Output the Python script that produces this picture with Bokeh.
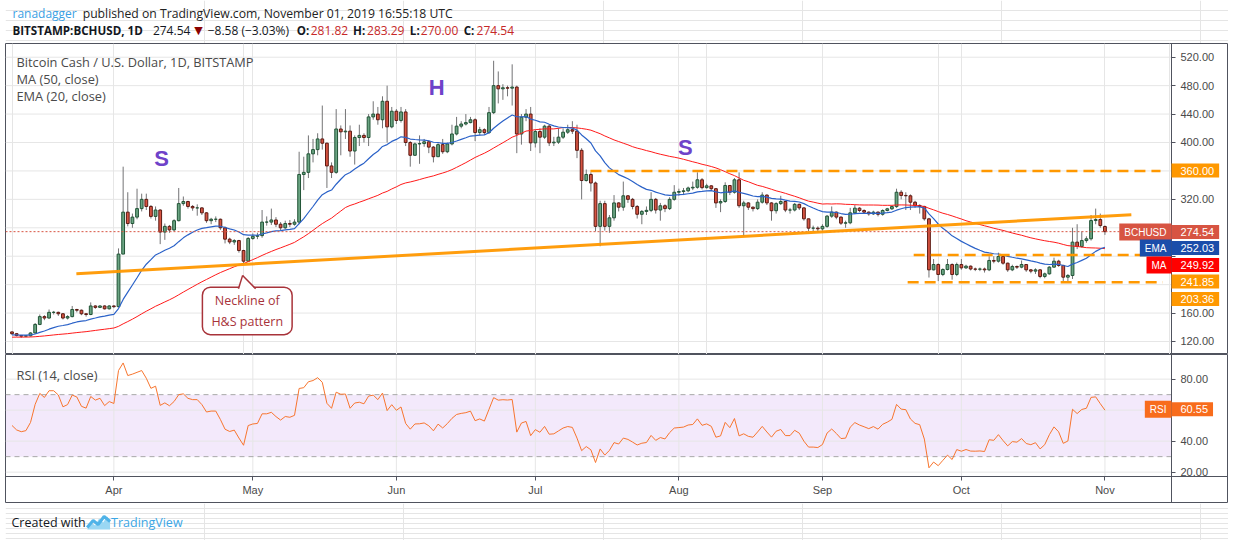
import numpy as np
import pandas as pd
from bokeh.plotting import figure
from bokeh.models import (Range1d, FixedTicker, Grid, Label, BoxAnnotation,
                          ColumnDataSource, PrintfTickFormatter, PolyAnnotation, Arrow)
from bokeh.layouts import column
from bokeh.embed import file_html
from bokeh.resources import INLINE
from bokeh.core.properties import value

# ---------------- data ----------------
start_date = "2019-03-10"
closes = [
    131, 128.5, 127.5, 128, 132, 144, 155, 153, 161, 161,
    159, 153, 155, 165, 164, 159, 158, 170, 168, 170,
    166, 170, 169, 243, 302, 286, 295, 307, 320, 310,
    296, 305, 274, 282, 277, 290, 314, 317, 310, 308,
    308, 301, 290, 292, 292, 280, 264, 260, 262, 248,
    233, 265, 268, 269, 288, 288, 291, 285, 280, 286,
    285, 288, 355, 358, 384, 390, 405, 399, 367, 358,
    419, 415, 416, 388, 407, 410, 407, 436, 440, 432,
    458, 422, 444, 431, 443, 400, 382, 398, 398.5, 401,
    393.5, 380, 397, 387, 398, 412, 423, 426, 428, 432,
    414, 418, 414, 442, 480, 475.5, 477, 476.5, 478, 412,
    435.6, 440, 399.5, 415.5, 407.5, 423, 399.5, 400.5, 407.5, 414.5,
    418, 416, 389, 346.5, 355, 343, 282, 314, 282, 294,
    315, 309, 325, 320, 310, 299, 303, 304.5, 320, 305,
    311, 307, 320, 330, 331, 332, 336, 337, 347.5, 336.5,
    339, 335, 315, 317, 339.5, 330, 347.5, 311, 315, 309,
    307, 316, 326, 315, 304, 314, 317, 305, 305, 313,
    308, 292.6, 279.5, 279.5, 278.5, 282, 296.4, 302, 295, 286.5,
    287, 301, 307.6, 304.3, 302, 299.6, 302, 299, 304.3, 306.7,
    309.8, 330, 325.5, 325, 316, 311.4, 310, 292.6, 220.8, 228.3,
    214.3, 221.3, 228.3, 214.3, 228.3, 223.6, 226, 222, 221.7, 222,
    220.8, 234, 233, 239.6, 230.2, 220.8, 225.5, 224.6, 228.3, 220.8,
    219, 220.8, 211.5, 215.2, 224.6, 233, 227, 210.5, 212.9, 259.8,
    253.7, 262, 264.5, 290.2, 291.6, 283.12, 274.54,
]
highs = [
    134, 132, 129, 129, 133, 146, 158, 157, 165, 163,
    162, 160, 157, 170, 166, 165, 160, 175, 171, 171,
    171, 171, 171, 251, 366, 330, 300, 335, 328, 328,
    312, 310, 306, 286, 284, 292, 336, 324, 318, 312,
    313, 309, 302, 294, 296, 293, 282, 266, 264, 263,
    249, 267, 272, 273, 305, 296, 307, 295, 288, 290,
    291, 292, 387, 380, 410, 405, 413, 452, 400, 372,
    447, 424, 447, 424, 410, 425, 413, 440, 458, 450,
    465, 480, 450, 447, 450, 447, 402, 400, 410, 405,
    403, 395, 399, 405, 400, 425, 436, 430, 440, 436,
    434, 422, 420, 450, 515, 500, 482, 480, 510, 480,
    440, 447, 450, 418, 420, 425, 425, 408, 420, 420,
    425, 430, 425, 392, 362, 358, 345, 318, 318, 298,
    326, 316, 345, 326, 322, 312, 305, 310, 330, 322,
    315, 313, 323, 340, 335, 336, 338, 345, 358, 350,
    342, 340, 336, 320, 344, 340, 350, 358, 318, 316,
    310, 320, 330, 327, 316, 316, 325, 318, 308, 315,
    314, 309, 293, 283, 282, 285, 298, 310, 303, 296,
    290, 308, 312, 309, 306, 303, 304, 303, 306, 308,
    311, 335, 333, 330, 327, 318, 313, 311, 294, 236,
    230, 223, 236, 230, 231, 236, 228, 227, 224, 224,
    224, 240, 240, 245, 241, 231, 228, 227, 234, 229,
    222, 223, 222, 217, 226, 238, 235, 228, 215, 280,
    285, 275, 268, 298, 307, 300, 283.29,
]
lows = [
    129, 127, 125, 126, 127, 131, 143, 150, 152, 158,
    156, 151, 151, 154, 161, 157, 155, 157, 166, 167,
    165, 165, 167, 168, 243, 282, 280, 292, 303, 305,
    293, 290, 257, 263, 273, 275, 289, 311, 307, 304,
    297, 298, 287, 285, 288, 277, 258, 257, 256, 245,
    230, 233, 263, 264, 266, 283, 284, 281, 276, 278,
    281, 283, 285, 333, 350, 372, 382, 390, 336, 350,
    356, 382, 405, 380, 369, 395, 400, 395, 432, 425,
    420, 400, 420, 426, 428, 395, 366, 381, 370, 394,
    385, 372, 380, 384, 385, 396, 410, 420, 424, 427,
    402, 410, 411, 412, 440, 455, 460, 465, 452, 385,
    397, 430, 388, 393, 385, 405, 395, 395, 398, 405,
    412, 412, 378, 320, 345, 331, 275, 254, 276, 273,
    290, 303, 304, 315, 306, 293, 285, 298, 302, 300,
    290, 302, 305, 318, 325, 326, 330, 333, 335, 334,
    335, 332, 308, 302, 315, 326, 328, 308, 268, 305,
    303, 305, 314, 312, 290, 300, 312, 302, 300, 303,
    305, 290, 275, 274, 274, 276, 280, 294, 292, 284,
    280, 285, 299, 302, 300, 297, 298, 296, 297, 303,
    305, 308, 320, 305, 305, 308, 300, 290, 210, 220,
    205, 212, 220, 207, 212, 221, 222, 220, 219, 219,
    217, 219, 230, 231, 228, 218, 219, 222, 223, 218,
    216, 215, 209, 209, 214, 224, 225, 203, 205, 208,
    250, 252, 259, 262, 285, 280, 270.00,
]
first_open = 133.5
last_open = 281.82

# indicator seeds (state before the visible window)
ma50_seed = 126.0
ema20_seed = 129.0
rsi_seed_gain = 1.7
rsi_seed_loss = 1.5

# values printed on the chart's scale badges
ema_shown = 252.03
ma_shown = 249.92
rsi_shown = 60.55

price_ticks = [120, 160, 200, 240, 280, 320, 360, 400, 440, 480, 520]
rsi_ticks = [20, 40, 60, 80]
rsi_band = [30, 70]

# drawings of the author
neckline_idx = [13.9, 241.7]
neckline_price = [215.3, 298.5]
level_prices = [360.0, 241.85, 203.36]
level_start_idx = [124.9, 194.7, 193.4]
level_end_idx = [248.0, 248.5, 248.5]
pattern_letters = ["S", "H", "S"]
pattern_idx = [32.3, 91.7, 145.4]
pattern_price = [377.5, 477.3, 393.0]
note_text = "Neckline of\nH&S pattern"
note_idx, note_price = 50.8, 163.0
note_tip = (49.8, 213.0)
note_base = (48.9, 52.6, 193.0)

# ---------------- derived ----------------
n = len(closes)
dates = pd.date_range(start_date, periods=n, freq="D")
idx = np.arange(n)
c = np.array(closes, float)
opens = np.array([first_open] + closes[:-1], float)
opens[-1] = last_open
h = np.array(highs, float)
l = np.array(lows, float)

padded = np.concatenate([np.full(49, ma50_seed), c])
ma50 = pd.Series(padded).rolling(50).mean().to_numpy()[49:]
ema20 = []
e = ema20_seed
k = 2 / 21
for v in c:
    e = v * k + e * (1 - k)
    ema20.append(e)
rsi = []
ag, al = rsi_seed_gain, rsi_seed_loss
prev = first_open
for v in c:
    ch = v - prev
    ag = (ag * 13 + max(ch, 0)) / 14
    al = (al * 13 + max(-ch, 0)) / 14
    rsi.append(100 - 100 / (1 + ag / al))
    prev = v

month_idx = [int(i) for i in idx[dates.day == 1]]
month_lbl = {i: dates[i].strftime("%b") for i in month_idx}

# ---------------- style / geometry ----------------
BORDER = "#50535E"
GRID = "#E6E6E6"
UP_FILL, DOWN_FILL = "#6BA583", "#D75442"
UP_LINE, DOWN_LINE = "#225437", "#5B1A13"
WICK = "#737375"
MA_C = "#FF1A1A"
EMA_C = "#2B62C8"
EMA_BADGE = "#1B4DAA"
ORANGE = "#FF9800"
RSI_C = "#F7752E"
RSI_BADGE = "#F86C1C"
PURPLE = "#6F42C9"
NOTE_C = "#A8333A"
TXT = "#4A4A4A"

W = 1228
LEFT = 5                      # frame starts 5px from the page edge
AXIS_PX = 1171 - LEFT         # price scale line, in px from the frame's left edge
HEADER_H, PRICE_H, RSI_H, FOOT_H = 43, 311, 149, 37
PRICE_TOP = HEADER_H
PRICE_BOTTOM = HEADER_H + PRICE_H
RSI_BOTTOM = PRICE_BOTTOM + RSI_H
X0, X1 = -1.404, 262.68       # visible bar range (frame is 1223px wide)
AXIS_X = 250.37               # bar position of the price scale line
PRICE_LO, PRICE_HI = 101.7, 539.3
RSI_LO, RSI_HI = -0.22, 95.9
RSI_AXIS_Y = 17.2             # RSI value at the time axis line

# where the chart stacks its price badges (page y of each badge centre)
badge_y = {"360": 170, "last": 231.5, "ema": 247.5, "ma": 264.5, "lvl1": 281, "lvl2": 298.5}

xr = Range1d(X0, X1)


def price_page_y(v):
    return PRICE_TOP + (PRICE_HI - v) / (PRICE_HI - PRICE_LO) * PRICE_H


def rsi_page_y(v):
    return PRICE_BOTTOM + (RSI_HI - v) / (RSI_HI - RSI_LO) * RSI_H


def style_axis(ax, size="11px"):
    ax.major_tick_out = 4
    ax.major_tick_in = 0
    ax.minor_tick_out = 0
    ax.minor_tick_in = 0
    ax.axis_line_color = BORDER
    ax.major_tick_line_color = BORDER
    ax.major_label_text_font = "Liberation Sans"
    ax.major_label_text_font_size = size
    ax.major_label_text_color = TXT
    ax.major_label_standoff = 5


def badge(fig, text, x, y, fill, align, y_units="screen", pad=(9, 5, 3, 3), size="11px"):
    fig.add_layout(Label(x=x, y=y, x_units="screen", y_units=y_units, text=text,
                         text_align=align, text_baseline="middle", text_color="white",
                         text_font="Liberation Sans", text_font_size=size,
                         background_fill_color=fill, padding=pad))


def caption(fig, text, x, y, size="12.8px", color=TXT):
    fig.add_layout(Label(x=x, y=y, x_units="screen", y_units="screen", text=text,
                         text_align="left", text_baseline="middle", text_color=color,
                         text_font="Open Sans", text_font_size=size))


def plain(height):
    f = figure(width=W, height=height, x_range=Range1d(0, W), y_range=Range1d(height, 0),
               toolbar_location=None, output_backend="svg", title=None,
               x_axis_location=None, y_axis_location=None, min_border=0)
    f.outline_line_color = None
    f.background_fill_color = "white"
    f.border_fill_color = "white"
    return f


F = value("Open Sans")

# ---------------- header ----------------
hf = plain(HEADER_H)
chg = c[-1] - c[-2]
pct = chg / c[-2] * 100
sign = "−" if chg < 0 else "+"
hf.text(x=[7], y=[13], text=["ranadagger"], text_font=F, text_font_size="12px",
        text_baseline="middle", text_color="#3AA0E3")
hf.text(x=[77.5], y=[13], text=["published on TradingView.com, November 01, 2019 16:55:18 UTC"],
        text_font=F, text_font_size="12.2px", text_baseline="middle", text_color="#222222")
hf.text(x=[7, 292.5, 349, 406, 460], y=[30] * 5,
        text=["BITSTAMP:BCHUSD, 1D", "O:", "H:", "L:", "C:"], text_font=F,
        text_font_size="11.6px", text_font_style="bold", text_baseline="middle",
        text_color="#131722")
hf.text(x=[148, 203], y=[30, 30],
        text=[f"{c[-1]:.2f}", f"{sign}{abs(chg):.2f} ({sign}{abs(pct):.2f}%)"],
        text_font=F, text_font_size="12px", text_baseline="middle", text_color="#131722")
hf.text(x=[189.5], y=[30], text=["▼"], text_font=value("DejaVu Sans"), text_font_size="11px",
        text_baseline="middle", text_color="#8B0000")
hf.text(x=[306.5, 363, 417, 473], y=[30] * 4,
        text=[f"{opens[-1]:.2f}", f"{h[-1]:.2f}", f"{l[-1]:.2f}", f"{c[-1]:.2f}"],
        text_font=F, text_font_size="12px", text_baseline="middle", text_color="#C62828")

# ---------------- price pane ----------------
pf = figure(width=W, height=PRICE_H, x_range=xr, y_range=Range1d(PRICE_LO, PRICE_HI),
            x_axis_location=None, y_axis_location="right", toolbar_location=None,
            output_backend="svg", title=None, min_border_left=LEFT, min_border_right=0,
            min_border_top=0, min_border_bottom=0)
pf.outline_line_color = BORDER
pf.background_fill_color = "white"
pf.border_fill_color = "white"
pf.ygrid.grid_line_color = None
pf.add_layout(Grid(dimension=0, ticker=FixedTicker(ticks=month_idx), grid_line_color=GRID))
pf.segment(x0=[X0] * len(price_ticks), y0=price_ticks, x1=[AXIS_X] * len(price_ticks),
           y1=price_ticks, line_color=GRID, line_width=1)
ya = pf.yaxis[0]
ya.fixed_location = AXIS_X
ya.ticker = FixedTicker(ticks=price_ticks)
ya.formatter = PrintfTickFormatter(format="%.2f")
# tick labels that sit under a badge are hidden, as on the chart
ya.major_label_overrides = {t: "" for t in price_ticks
                            if any(abs(price_page_y(t) - b) < 12 for b in badge_y.values())}
style_axis(ya)

up = c >= opens
top = np.maximum(opens, c)
bot = np.minimum(opens, c)
src = ColumnDataSource(dict(
    x=idx, top=top, bottom=bot, hi=np.maximum(h, top), lo=np.minimum(l, bot),
    fill=np.where(up, UP_FILL, DOWN_FILL), line=np.where(up, UP_LINE, DOWN_LINE)))
pf.segment(x0="x", y0="lo", x1="x", y1="hi", source=src, line_color=WICK, line_width=1)
pf.vbar(x="x", width=0.6, top="top", bottom="bottom", source=src,
        fill_color="fill", line_color="line", line_width=1)
pf.line(idx, ma50, line_color=MA_C, line_width=1)
pf.line(idx, ema20, line_color=EMA_C, line_width=1.2)
pf.segment(x0=[X0], y0=[c[-1]], x1=[AXIS_X], y1=[c[-1]], line_color=DOWN_FILL,
           line_dash="2 2", line_width=1)
pf.line(neckline_idx, neckline_price, line_color=ORANGE, line_width=3, line_alpha=0.95)
pf.segment(x0=level_start_idx, y0=level_prices, x1=level_end_idx, y1=level_prices,
           line_color=ORANGE, line_width=2.5, line_dash="11 6")

for t, xi, yi in zip(pattern_letters, pattern_idx, pattern_price):
    pf.add_layout(Label(x=xi, y=yi, text=t, text_align="center", text_baseline="middle",
                        text_color=PURPLE, text_font="Liberation Sans",
                        text_font_style="bold", text_font_size="22px"))

pf.add_layout(Label(x=note_idx, y=note_price, text=note_text, text_align="center",
                    text_baseline="middle", text_color=NOTE_C, text_font="Open Sans",
                    text_font_size="12.5px", background_fill_color="white",
                    border_line_color=NOTE_C, border_line_width=1.5, padding=(9, 9, 5, 5),
                    border_radius=8))
pf.add_layout(PolyAnnotation(xs=[note_base[0], note_tip[0], note_base[1]],
                             ys=[note_base[2], note_tip[1], note_base[2]],
                             fill_color="white", fill_alpha=1, line_color=None))
for bx in note_base[:2]:
    pf.add_layout(Arrow(end=None, x_start=bx, y_start=note_base[2] + 1.2, x_end=note_tip[0],
                        y_end=note_tip[1], line_color=NOTE_C, line_width=1.5))

# captions: page y -> px above the pane bottom
caption(pf, "Bitcoin Cash / U.S. Dollar, 1D, BITSTAMP", 11, PRICE_BOTTOM - 61)
caption(pf, "MA (50, close)", 11, PRICE_BOTTOM - 78)
caption(pf, "EMA (20, close)", 11, PRICE_BOTTOM - 95)

# scale badges (stacked the way the chart stacks them)
def sy(key):
    return PRICE_BOTTOM - badge_y[key]


badge(pf, f"{level_prices[0]:.2f}", AXIS_PX, sy("360"), ORANGE, "left")
badge(pf, f"{c[-1]:.2f}", AXIS_PX, sy("last"), DOWN_FILL, "left")
badge(pf, f"{ema_shown:.2f}", AXIS_PX, sy("ema"), EMA_BADGE, "left")
badge(pf, f"{ma_shown:.2f}", AXIS_PX, sy("ma"), "#FF0000", "left")
badge(pf, f"{level_prices[1]:.2f}", AXIS_PX, sy("lvl1"), ORANGE, "left")
badge(pf, f"{level_prices[2]:.2f}", AXIS_PX, sy("lvl2"), ORANGE, "left")
badge(pf, "BCHUSD", AXIS_PX, sy("last"), DOWN_FILL, "right", pad=(5, 5, 3, 3), size="10px")
badge(pf, "EMA", AXIS_PX, sy("ema"), EMA_BADGE, "right", pad=(5, 5, 3, 3), size="10px")
badge(pf, "MA", AXIS_PX, sy("ma"), "#FF0000", "right", pad=(5, 5, 3, 3), size="10px")

# ---------------- RSI pane ----------------
rf = figure(width=W, height=RSI_H, x_range=xr, y_range=Range1d(RSI_LO, RSI_HI),
            x_axis_location="below", y_axis_location="right", toolbar_location=None,
            output_backend="svg", title=None, min_border_left=LEFT, min_border_right=0,
            min_border_top=0, min_border_bottom=0)
rf.outline_line_color = BORDER
rf.background_fill_color = "white"
rf.border_fill_color = "white"
rf.xgrid.grid_line_color = None
rf.ygrid.grid_line_color = None
rf.add_layout(BoxAnnotation(left=X0, right=AXIS_X, bottom=rsi_band[0], top=rsi_band[1],
                            fill_color="#8E24D8", fill_alpha=0.1, line_color=None,
                            level="underlay"))
rf.segment(x0=[X0] * len(rsi_ticks), y0=rsi_ticks, x1=[AXIS_X] * len(rsi_ticks), y1=rsi_ticks,
           line_color=GRID, line_width=1)
rf.segment(x0=month_idx, y0=[RSI_AXIS_Y] * len(month_idx), x1=month_idx,
           y1=[RSI_HI] * len(month_idx), line_color=GRID, line_width=1)
rf.segment(x0=[X0] * 2, y0=rsi_band, x1=[AXIS_X] * 2, y1=rsi_band, line_color="#A8A8A8",
           line_dash="5 4", line_width=1)
rf.line(idx, rsi, line_color=RSI_C, line_width=1)
ra = rf.yaxis[0]
ra.fixed_location = AXIS_X
ra.ticker = FixedTicker(ticks=rsi_ticks)
ra.formatter = PrintfTickFormatter(format="%.2f")
ra.major_label_overrides = {t: "" for t in rsi_ticks
                            if abs(rsi_page_y(t) - rsi_page_y(rsi_shown)) < 12}
style_axis(ra)
xa = rf.xaxis[0]
xa.fixed_location = RSI_AXIS_Y
xa.ticker = FixedTicker(ticks=month_idx)
xa.major_label_overrides = month_lbl
style_axis(xa)
xa.major_label_standoff = 4
caption(rf, "RSI (14, close)", 11, RSI_BOTTOM - 374)
badge(rf, f"{rsi_shown:.2f}", AXIS_PX, rsi_shown, RSI_BADGE, "left", y_units="data")
badge(rf, "RSI", AXIS_PX, rsi_shown, RSI_BADGE, "right", y_units="data",
      pad=(5, 5, 3, 3), size="10px")

# ---------------- footer ----------------
ff = plain(FOOT_H)
ff.text(x=[6], y=[19], text=["Created with"], text_font=F, text_font_size="12.5px",
        text_baseline="middle", text_color="#131722")
ff.patch([82, 86, 90, 94, 98, 102, 105, 105, 82], [26, 19, 22, 15, 19, 13, 17, 26, 26],
         fill_color="#9AD7F3", line_color=None)
ff.line([82, 88, 93, 99, 105], [24, 17, 21, 13, 18], line_color="#4FB3E8", line_width=3)
ff.text(x=[106], y=[19], text=["TradingView"], text_font=F, text_font_size="12.5px",
        text_baseline="middle", text_color="#3BA6E5")

layout = column(hf, pf, rf, ff, spacing=0)
open("out.html", "w").write(file_html(layout, INLINE))
